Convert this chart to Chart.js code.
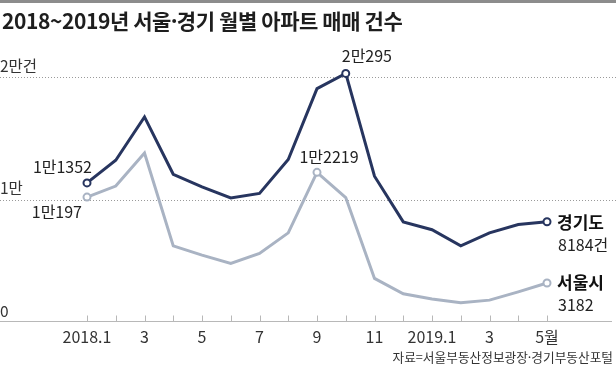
<!DOCTYPE html>
<html>
<head>
<meta charset="utf-8">
<script src="https://cdn.jsdelivr.net/npm/chart.js@4"></script>
<style>
  body { margin: 0; background: #fff; }
  #wrap { position: relative; width: 616px; height: 366px; overflow: hidden; }
  #topbar { position: absolute; left: 0; top: 0; width: 616px; height: 3px; background: #8c8c8c; }
  #title { position: absolute; left: 2px; top: 10px; font: bold 21px "Noto Sans CJK KR"; line-height: 21px; color: #1e1e1e; white-space: nowrap; letter-spacing: -0.4px; }
  #source { position: absolute; right: 3px; top: 351px; font: 12.7px "Noto Sans CJK KR"; line-height: 12px; color: #333; white-space: nowrap; }
  .dot { margin: 0 -0.15em; }
  canvas { position: absolute; left: 0; top: 0; }
</style>
</head>
<body>
<div id="wrap">
  <canvas id="myChart" width="616" height="366"></canvas>
  <div id="topbar"></div>
  <div id="title">2018~2019년 서울<span class="dot">·</span>경기 월별 아파트 매매 건수</div>
  <div id="source">자료=서울부동산정보광장<span class="dot">·</span>경기부동산포털</div>
</div>
<script>
// 2018.1 ~ 2019.5 월별
var months = ['2018.1', '2018.2', '2018.3', '2018.4', '2018.5', '2018.6', '2018.7', '2018.8', '2018.9',
              '2018.10', '2018.11', '2018.12', '2019.1', '2019.2', '2019.3', '2019.4', '2019.5'];
var monthLabels = ['2018.1', '', '3', '', '5', '', '7', '', '9', '', '11', '', '2019.1', '', '3', '', '5월'];

var gyeonggi = [11352, 13200, 16740, 12060, 11030, 10130, 10500, 13270, 19050, 20295,
                11900, 8173, 7530, 6215, 7276, 7960, 8184];
var seoul = [10197, 11100, 13800, 6215, 5457, 4780, 5600, 7276, 12219, 10163,
             3556, 2300, 1880, 1566, 1786, 2463, 3182];

var yTickValues = [0, 10000, 20000];
var yTickLabels = ['0', '1만', '2만건'];

var seriesNames = ['경기도', '서울시'];
var seriesEndLabels = ['8184건', '3182'];

var gyeonggiMarks = [0, 9, 16];
var seoulMarks = [0, 8, 16];

var navy = '#27355f';
var lightGray = '#a9b3c3';

function manLabel(v) {
    // 11352 -> 1만1352
    return Math.floor(v / 10000) + '만' + (v % 10000);
}

function radii(marks) {
    return months.map(function (m, i) { return marks.indexOf(i) >= 0 ? 3.5 : 0; });
}

var fontKR = '"Noto Sans CJK KR"';

var axisPlugin = {
    id: 'axisPlugin',
    beforeDatasetsDraw: function (chart) {
        var ctx = chart.ctx, x = chart.scales.x, y = chart.scales.y;
        ctx.save();

        // dotted grid lines
        ctx.strokeStyle = '#9a9a9a';
        ctx.lineWidth = 1;
        ctx.setLineDash([1, 2]);
        yTickValues.forEach(function (v) {
            if (v === 0) return;
            var py = Math.round(y.getPixelForValue(v)) + 0.5;
            ctx.beginPath();
            ctx.moveTo(0, py);
            ctx.lineTo(chart.width, py);
            ctx.stroke();
        });
        ctx.setLineDash([]);

        // base line + ticks
        var by = Math.round(y.getPixelForValue(0)) - 0.5;
        ctx.strokeStyle = '#b8b8b8';
        ctx.beginPath();
        ctx.moveTo(0, by);
        ctx.lineTo(612, by);
        ctx.stroke();
        months.forEach(function (m, i) {
            var px = Math.round(x.getPixelForValue(i)) + 0.5;
            ctx.beginPath();
            ctx.moveTo(px, by - 6);
            ctx.lineTo(px, by);
            ctx.stroke();
        });

        // y labels
        ctx.fillStyle = '#333';
        ctx.font = '15.5px ' + fontKR;
        ctx.textAlign = 'left';
        ctx.textBaseline = 'middle';
        yTickValues.forEach(function (v, i) {
            ctx.fillText(yTickLabels[i], 0, y.getPixelForValue(v) - 11);
        });

        // x labels
        ctx.font = '16px ' + fontKR;
        ctx.textAlign = 'center';
        monthLabels.forEach(function (lab, i) {
            if (lab) ctx.fillText(lab, x.getPixelForValue(i), by + 15);
        });
        ctx.restore();
    },
    afterDatasetsDraw: function (chart) {
        var ctx = chart.ctx, x = chart.scales.x, y = chart.scales.y;
        ctx.save();
        ctx.fillStyle = '#222';
        ctx.font = '16px ' + fontKR;
        ctx.textBaseline = 'middle';

        // 첫 달
        ctx.textAlign = 'right';
        ctx.fillText(manLabel(gyeonggi[0]), x.getPixelForValue(0) + 5, y.getPixelForValue(gyeonggi[0]) - 16);
        ctx.fillText(manLabel(seoul[0]), x.getPixelForValue(0) - 5, y.getPixelForValue(seoul[0]) + 15);

        // 최고점
        ctx.textAlign = 'left';
        ctx.fillText(manLabel(gyeonggi[9]), x.getPixelForValue(9) - 4, y.getPixelForValue(gyeonggi[9]) - 17);
        ctx.textAlign = 'center';
        ctx.fillText(manLabel(seoul[8]), x.getPixelForValue(8) + 12, y.getPixelForValue(seoul[8]) - 15);

        // 끝 라벨
        var last = months.length - 1;
        var lx = x.getPixelForValue(last) + 10;
        ctx.textAlign = 'left';
        ctx.fillStyle = '#111';
        ctx.font = 'bold 17px ' + fontKR;
        ctx.fillText(seriesNames[0], lx, y.getPixelForValue(gyeonggi[last]) + 1);
        ctx.fillText(seriesNames[1], lx, y.getPixelForValue(seoul[last]));
        ctx.fillStyle = '#222';
        ctx.font = '16px ' + fontKR;
        ctx.fillText(seriesEndLabels[0], lx + 1, y.getPixelForValue(gyeonggi[last]) + 23);
        ctx.fillText(seriesEndLabels[1], lx + 1, y.getPixelForValue(seoul[last]) + 22);
        ctx.restore();
    }
};

var ctx = document.getElementById('myChart').getContext('2d');
var myChart = new Chart(ctx, {
    type: 'line',
    data: {
        labels: months,
        datasets: [{
            label: seriesNames[0],
            data: gyeonggi,
            borderColor: navy,
            borderWidth: 3,
            pointRadius: radii(gyeonggiMarks),
            pointBackgroundColor: '#fff',
            pointBorderColor: navy,
            pointBorderWidth: 2,
            tension: 0,
            clip: false,
            order: 1
        }, {
            label: seriesNames[1],
            data: seoul,
            borderColor: lightGray,
            borderWidth: 3,
            pointRadius: radii(seoulMarks),
            pointBackgroundColor: '#fff',
            pointBorderColor: lightGray,
            pointBorderWidth: 2,
            tension: 0,
            clip: false,
            order: 2
        }]
    },
    options: {
        responsive: false,
        devicePixelRatio: 1,
        animation: false,
        layout: { padding: { left: 87, right: 69, top: 77, bottom: 44 } },
        scales: {
            x: { display: false, offset: false },
            y: { display: false, min: 0, max: 20000 }
        },
        plugins: {
            legend: { display: false },
            title: { display: false },
            tooltip: { enabled: false }
        }
    },
    plugins: [axisPlugin]
});
</script>
</body>
</html>
